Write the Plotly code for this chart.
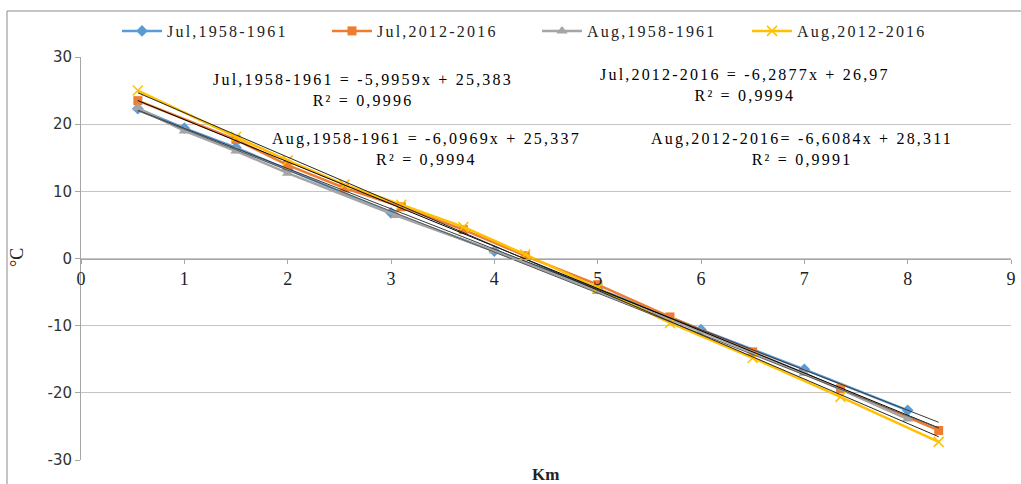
import plotly.graph_objects as go

# ---- data ----
jul58_x = [0.55, 1, 1.5, 2, 3, 4, 5, 6, 7, 8]
jul58_y = [22.3, 19.4, 16.5, 13.3, 6.8, 1.1, -4.5, -10.6, -16.5, -22.6]

jul12_x = [0.55, 1.5, 2, 2.55, 3.1, 3.7, 4.3, 5, 5.7, 6.5, 7.35, 8.3]
jul12_y = [23.5, 17.7, 13.9, 10.5, 7.7, 4.3, 0.4, -3.9, -8.7, -13.9, -19.4, -25.6]

aug58_x = [0.55, 1, 1.5, 2, 3.05, 4, 5, 6, 7, 8]
aug58_y = [22.4, 19.0, 16.0, 12.7, 6.4, 1.1, -4.9, -10.9, -17.1, -23.9]

aug12_x = [0.55, 1.5, 2, 2.55, 3.1, 3.7, 4.3, 5, 5.7, 6.5, 7.35, 8.3]
aug12_y = [25.0, 18.1, 14.6, 11.0, 8.0, 4.7, 0.6, -4.4, -9.6, -14.8, -20.6, -27.3]

series_names = ["Jul,1958-1961", "Jul,2012-2016", "Aug,1958-1961", "Aug,2012-2016"]
series_colors = ["#5b9bd5", "#ed7d31", "#a5a5a5", "#ffc000"]
series_symbols = ["diamond", "square", "triangle-up", "x-thin"]

# trendline coefficients (slope, intercept) and R²
trend_slope = [-5.9959, -6.2877, -6.0969, -6.6084]
trend_icpt = [25.383, 26.97, 25.337, 28.311]
trend_eq = ["Jul,1958-1961 = -5,9959x + 25,383",
            "Jul,2012-2016 = -6,2877x + 26,97",
            "Aug,1958-1961 = -6,0969x + 25,337",
            "Aug,2012-2016= -6,6084x + 28,311"]
trend_r2 = ["R² = 0,9996", "R² = 0,9994", "R² = 0,9994", "R² = 0,9991"]
trend_range = [0.55, 8.3]

x_ticks = [0, 1, 2, 3, 4, 5, 6, 7, 8, 9]
y_ticks = [-30, -20, -10, 0, 10, 20, 30]

# ---- figure (body margin removed via post_script) ----
W, H = 1021, 484
ml, mr, mt, mb = 81, 10, 57, 24
pw, ph = W - ml - mr, H - mt - mb


def px_x(p):
    return (p - ml) / pw


def px_y(p):
    return (H - mb - p) / ph


def spaced(t, s=2.2):
    return f'<span style="letter-spacing:{s}px">{t}</span>'


fig = go.Figure()
xs = [jul58_x, jul12_x, aug58_x, aug12_x]
ys = [jul58_y, jul12_y, aug58_y, aug12_y]
msize = [9, 9, 10, 10]
for i in range(4):
    mk = dict(symbol=series_symbols[i], size=msize[i], color=series_colors[i])
    if series_symbols[i] == "x-thin":
        mk["line"] = dict(color=series_colors[i], width=1.5)
    fig.add_trace(go.Scatter(
        x=xs[i], y=ys[i], name=spaced(series_names[i]), mode="lines+markers",
        line=dict(color=series_colors[i], width=2.5), marker=mk))

trend_colors = ["#3a3a3a", "#000000", "#595959", "#262626"]
for i in range(4):
    tx = trend_range
    ty = [trend_slope[i] * v + trend_icpt[i] for v in tx]
    fig.add_trace(go.Scatter(x=tx, y=ty, mode="lines", showlegend=False,
                             line=dict(color=trend_colors[i], width=1),
                             hoverinfo="skip"))

serif = "Liberation Serif, Times New Roman, serif"
ann_font = dict(family=serif, size=16, color="#000000")
eq_pos = [(363, 90), (745, 85), (426, 149), (802, 149)]
annotations = []
for i in range(4):
    ex, ey = eq_pos[i]
    annotations.append(dict(text=spaced(trend_eq[i]) + "<br>" + spaced(trend_r2[i]),
                            x=px_x(ex), y=px_y(ey), xref="paper", yref="paper",
                            showarrow=False, font=ann_font, align="center",
                            xanchor="center", yanchor="middle"))

annotations.append(dict(text="<b>Km</b>", x=px_x(545), y=px_y(474), xref="paper", yref="paper",
                        showarrow=False, font=dict(family=serif, size=17, color="#222"),
                        xanchor="center", yanchor="middle"))
annotations.append(dict(text="°C", x=px_x(17), y=px_y(258), xref="paper", yref="paper",
                        showarrow=False, textangle=-90,
                        font=dict(family=serif, size=18, color="#222"),
                        xanchor="center", yanchor="middle"))

fig.update_layout(
    width=W, height=H,
    margin=dict(l=ml, r=mr, t=mt, b=mb, pad=0, autoexpand=False),
    paper_bgcolor="white", plot_bgcolor="white",
    showlegend=True,
    legend=dict(orientation="h", x=px_x(117), y=px_y(31), xanchor="left", yanchor="middle",
                font=dict(family=serif, size=16, color="#222"),
                entrywidth=155, entrywidthmode="pixels",
                bgcolor="rgba(0,0,0,0)", itemwidth=40),
    annotations=annotations,
    shapes=[dict(type="rect", xref="paper", yref="paper",
                 x0=px_x(7), x1=px_x(1040), y0=px_y(500), y1=px_y(11),
                 line=dict(color="#8c8c8c", width=1), fillcolor="rgba(0,0,0,0)", layer="below")],
)

fig.update_xaxes(
    range=[0, 9], tickvals=x_ticks, ticktext=[str(v) for v in x_ticks],
    showgrid=False, zeroline=False, automargin=False,
    showline=True, linecolor="#a6a6a6", linewidth=1,
    anchor="free", position=0.5,
    ticks="outside", ticklen=4, tickcolor="#a6a6a6",
    tickfont=dict(family=serif, size=18, color="#222"),
)
fig.update_yaxes(
    range=[-30, 30], tickvals=y_ticks, ticktext=[str(v) for v in y_ticks],
    showgrid=True, gridcolor="#c4c4c4", gridwidth=1, zeroline=False, automargin=False,
    showline=True, linecolor="#a6a6a6", linewidth=1,
    ticks="outside", ticklen=5, tickcolor="#a6a6a6",
    tickfont=dict(family="DejaVu Sans, Verdana, sans-serif", size=15, color="#333"),
)

fig.write_html("out.html", config={"displayModeBar": False},
               post_script="document.body.style.margin='0';document.body.style.overflow='hidden';")
